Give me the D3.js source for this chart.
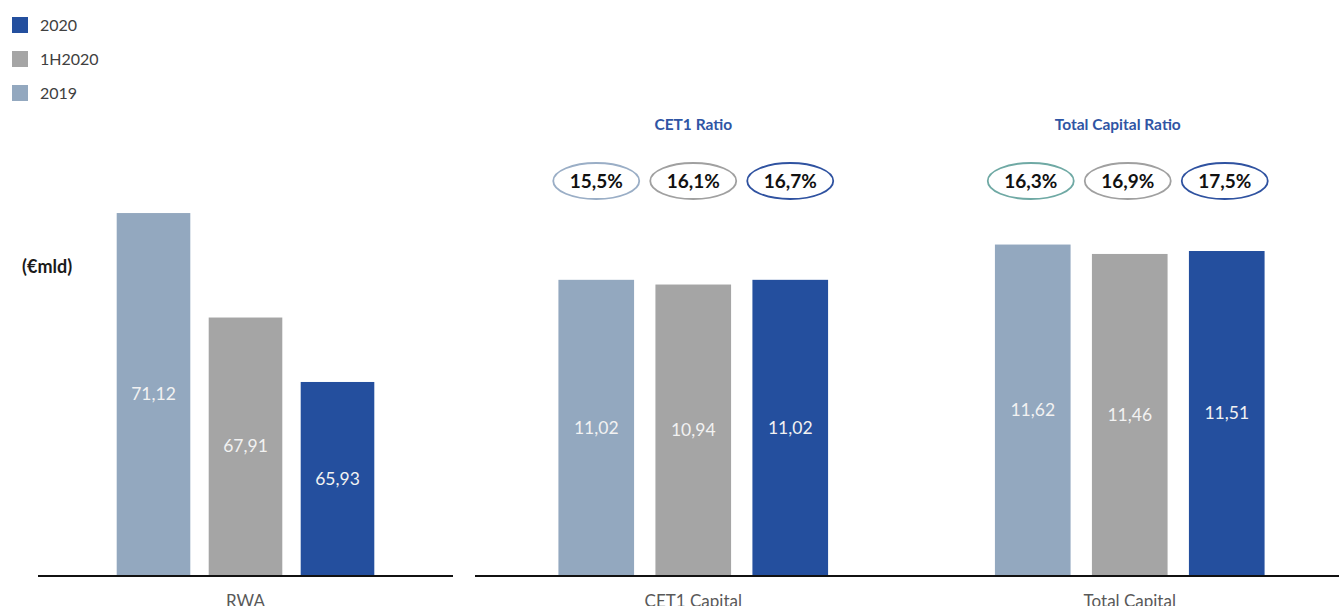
<!DOCTYPE html>
<html>
<head>
<meta charset="utf-8">
<script src="https://cdn.jsdelivr.net/npm/d3@7"></script>
<style>
  body { margin: 0; background: #fff; }
  text { font-family: Lato, "Open Sans", sans-serif; }
</style>
</head>
<body>
<div id="chart"></div>
<script>
// data
var series = ["2019", "1H2020", "2020"];
var legendOrder = ["2020", "1H2020", "2019"];
var rwaValues = [71.12, 67.91, 65.93];
var capitalCategories = ["CET1 Capital", "Total Capital"];
var cet1Values = [11.02, 10.94, 11.02];
var totalValues = [11.62, 11.46, 11.51];
var ratioTitles = ["CET1 Ratio", "Total Capital Ratio"];
var cet1Ratio = [15.5, 16.1, 16.7];
var totalRatio = [16.3, 16.9, 17.5];

var colors = {"2019": "#93a8bf", "1H2020": "#a5a5a5", "2020": "#244f9e"};
var ringColors = [
  {"2019": "#9aaec6", "1H2020": "#a0a0a0", "2020": "#2f52a0"},
  {"2019": "#6fa9a4", "1H2020": "#a0a0a0", "2020": "#2f52a0"}
];

var width = 1339, height = 606, baseY = 575;
var fmt = function(v, d) { return v.toFixed(d).replace(".", ","); };

var svg = d3.select("#chart").append("svg")
  .attr("width", width)
  .attr("height", height);

// legend
var legend = svg.append("g").selectAll("g")
  .data(legendOrder)
  .enter().append("g")
    .attr("transform", function(d, i) { return "translate(12," + (17 + i * 34) + ")"; });
legend.append("rect").attr("width", 16).attr("height", 16)
  .style("fill", function(d) { return colors[d]; });
legend.append("text").attr("x", 28).attr("y", 14)
  .style("font-size", "16px").style("fill", "#404040")
  .text(function(d) { return d; });

svg.append("text").attr("x", 22).attr("y", 273)
  .style("font-size", "18px").style("font-weight", "bold").style("fill", "#1a1a1a")
  .text("(€mld)");

// RWA panel
var xRwa = d3.scaleBand().domain(["RWA"]).range([38, 453]);
var xRwaInner = d3.scaleBand().domain(series).range([-138, 138])
  .paddingInner(0.2).paddingOuter(0.1);
var yRwa = d3.scaleLinear().domain([60, 75]).range([baseY, baseY - 15 * 32.55]);

var rwa = svg.append("g")
  .attr("transform", "translate(" + (xRwa("RWA") + xRwa.bandwidth() / 2) + ",0)");
rwa.selectAll("rect").data(rwaValues).enter().append("rect")
  .attr("x", function(d, i) { return xRwaInner(series[i]); })
  .attr("y", function(d) { return yRwa(d); })
  .attr("width", xRwaInner.bandwidth())
  .attr("height", function(d) { return baseY - yRwa(d); })
  .style("fill", function(d, i) { return colors[series[i]]; });
rwa.selectAll(".val").data(rwaValues).enter().append("text")
  .attr("class", "val")
  .attr("x", function(d, i) { return xRwaInner(series[i]) + xRwaInner.bandwidth() / 2; })
  .attr("y", function(d) { return (yRwa(d) + baseY) / 2; })
  .attr("dy", "0.35em").attr("text-anchor", "middle")
  .style("font-size", "17.5px").style("fill", "#f2f2f2")
  .text(function(d) { return fmt(d, 2); });

svg.append("line").attr("x1", 38).attr("x2", 453).attr("y1", baseY + 1).attr("y2", baseY + 1)
  .style("stroke", "#111").style("stroke-width", 2);
svg.append("text").attr("x", xRwa("RWA") + xRwa.bandwidth() / 2).attr("y", 607)
  .attr("text-anchor", "middle").style("font-size", "17px").style("fill", "#595959")
  .text("RWA");

// capital panel
var xCap = d3.scaleBand().domain(capitalCategories).range([475, 1348]);
var xCapInner = d3.scaleBand().domain(series).range([-145.5, 145.5])
  .paddingInner(0.22).paddingOuter(0.11);
var yCap = d3.scaleLinear().domain([6, 12]).range([baseY, baseY - 6 * 58.8]);

var capData = [cet1Values, totalValues];
var ratioData = [cet1Ratio, totalRatio];

capitalCategories.forEach(function(cat, k) {
  var cx = xCap(cat) + xCap.bandwidth() / 2;
  var g = svg.append("g").attr("transform", "translate(" + cx + ",0)");

  g.selectAll("rect").data(capData[k]).enter().append("rect")
    .attr("x", function(d, i) { return xCapInner(series[i]); })
    .attr("y", function(d) { return yCap(d); })
    .attr("width", xCapInner.bandwidth())
    .attr("height", function(d) { return baseY - yCap(d); })
    .style("fill", function(d, i) { return colors[series[i]]; });

  g.selectAll(".val").data(capData[k]).enter().append("text")
    .attr("class", "val")
    .attr("x", function(d, i) { return xCapInner(series[i]) + xCapInner.bandwidth() / 2; })
    .attr("y", function(d) { return (yCap(d) + baseY) / 2; })
    .attr("dy", "0.35em").attr("text-anchor", "middle")
    .style("font-size", "17.5px").style("fill", "#f2f2f2")
    .text(function(d) { return fmt(d, 2); });

  // ratio bubbles
  g.selectAll("ellipse").data(ratioData[k]).enter().append("ellipse")
    .attr("cx", function(d, i) { return xCapInner(series[i]) + xCapInner.bandwidth() / 2 - (k ? 2 : 0); })
    .attr("cy", 181)
    .attr("rx", 43)
    .attr("ry", 18)
    .style("fill", "#fff")
    .style("stroke", function(d, i) { return ringColors[k][series[i]]; })
    .style("stroke-width", 1.8);
  g.selectAll(".ratio").data(ratioData[k]).enter().append("text")
    .attr("class", "ratio")
    .attr("x", function(d, i) { return xCapInner(series[i]) + xCapInner.bandwidth() / 2 - (k ? 2 : 0); })
    .attr("y", 181).attr("dy", "0.35em").attr("text-anchor", "middle")
    .style("font-size", "19px").style("font-weight", "bold").style("fill", "#111")
    .text(function(d) { return fmt(d, 1) + "%"; });

  g.append("text").attr("x", k ? -12 : 0).attr("y", 130)
    .attr("text-anchor", "middle")
    .style("font-size", "15.5px").style("font-weight", "bold").style("fill", "#2f55a4")
    .text(ratioTitles[k]);

  g.append("text").attr("y", 607).attr("text-anchor", "middle")
    .style("font-size", "17px").style("fill", "#595959")
    .text(cat);
});

svg.append("line").attr("x1", 475).attr("x2", 1339).attr("y1", baseY + 1).attr("y2", baseY + 1)
  .style("stroke", "#111").style("stroke-width", 2);
</script>
</body>
</html>
